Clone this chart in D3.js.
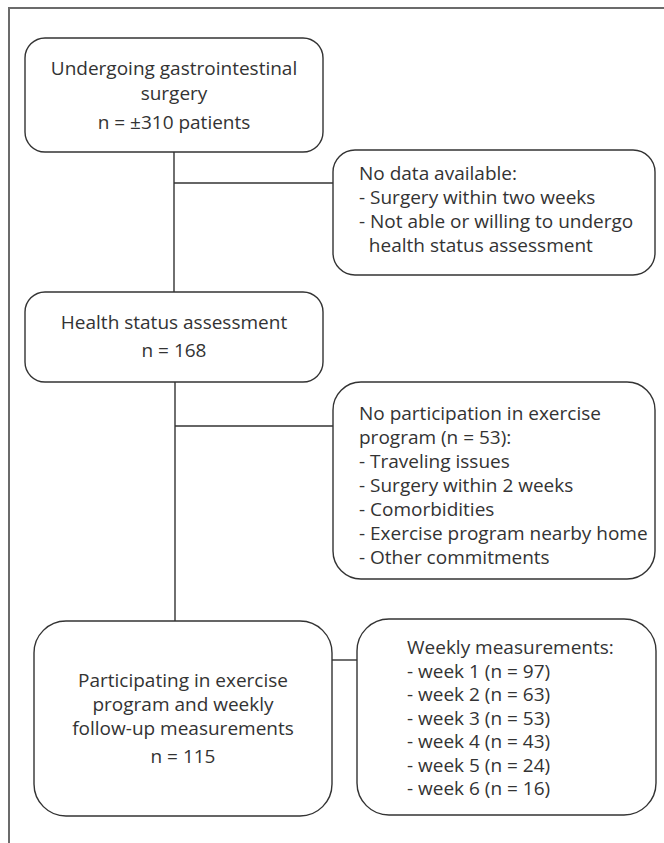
<!DOCTYPE html>
<html>
<head>
<meta charset="utf-8">
<script src="https://cdn.jsdelivr.net/npm/d3@7"></script>
<style>
  body { margin: 0; background: #fff; }
  text { font-family: "Open Sans", "Noto Sans", sans-serif; fill: #333; }
</style>
</head>
<body>
<div id="flow"></div>
<script>
// flow content
var mainSteps = [
    ['Undergoing gastrointestinal', 'surgery'],
    ['Health status assessment'],
    ['Participating in exercise', 'program and weekly', 'follow-up measurements']
];
var mainCounts = ['\u00b1310 patients', '168', '115'];

var noDataTitle = 'No data available:';
var noDataReasons = ['Surgery within two weeks', 'Not able or willing to undergo'];
var noDataContinued = 'health status assessment';

var noParticipationTitle = ['No participation in exercise', 'program'];
var noParticipationCount = 53;
var noParticipationReasons = ['Traveling issues', 'Surgery within 2 weeks', 'Comorbidities',
    'Exercise program nearby home', 'Other commitments'];

var weeklyTitle = 'Weekly measurements:';
var weeks = [1, 2, 3, 4, 5, 6];
var weeklyCounts = [97, 63, 53, 43, 24, 16];

var width = 664, height = 843;

var svg = d3.select('#flow')
    .append('svg')
    .attr('width', width)
    .attr('height', height);

// text lines for every box
var mainText = mainSteps.map(function (lines, i) {
    return lines.concat(['n = ' + mainCounts[i]]);
});
var noDataText = [noDataTitle].concat(noDataReasons.map(function (d) { return '- ' + d; }), ['  ' + noDataContinued]);
var noPartText = [noParticipationTitle[0], noParticipationTitle[1] + ' (n = ' + noParticipationCount + '):']
    .concat(noParticipationReasons.map(function (d) { return '- ' + d; }));
var weeklyText = [weeklyTitle].concat(weeks.map(function (w, i) {
    return '- week ' + w + ' (n = ' + weeklyCounts[i] + ')';
}));

// layout of the boxes (x, y, w, h, corner, text anchor, first line, line step)
var boxes = [
    { x: 25, y: 38, w: 298, h: 114, r: 20, lines: mainText[0], anchor: 'middle', first: 68, step: 25, nGap: 29 },
    { x: 333, y: 150, w: 322, h: 125, r: 22, lines: noDataText, anchor: 'start', tx: 359, first: 173, step: 24 },
    { x: 25, y: 292, w: 298, h: 90, r: 20, lines: mainText[1], anchor: 'middle', first: 322, step: 25, nGap: 28 },
    { x: 333, y: 382, w: 322, h: 197, r: 28, lines: noPartText, anchor: 'start', tx: 359, first: 413, step: 24 },
    { x: 34, y: 621, w: 298, h: 195, r: 32, lines: mainText[2], anchor: 'middle', first: 680, step: 24, nGap: 28 },
    { x: 357, y: 619, w: 299, h: 196, r: 32, lines: weeklyText, anchor: 'start', tx: 407, first: 647, step: 23.5 }
];

// outer frame (top and left only)
svg.append('path')
    .attr('d', 'M9,' + height + 'V8H' + width)
    .attr('fill', 'none')
    .attr('stroke', '#6b6b6b')
    .attr('stroke-width', 2);

// connectors
var link = d3.line();
var connectors = [
    [[174, 152], [174, 292]],
    [[174, 183], [333, 183]],
    [[175, 382], [175, 621]],
    [[175, 426], [333, 426]],
    [[332, 660], [357, 660]]
];
svg.selectAll('.link')
    .data(connectors)
    .enter().append('path')
    .attr('class', 'link')
    .attr('d', link)
    .attr('fill', 'none')
    .attr('stroke', '#333')
    .attr('stroke-width', 1.4);

var g = svg.selectAll('.box')
    .data(boxes)
    .enter().append('g')
    .attr('class', 'box');

g.append('rect')
    .attr('x', function (d) { return d.x; })
    .attr('y', function (d) { return d.y; })
    .attr('width', function (d) { return d.w; })
    .attr('height', function (d) { return d.h; })
    .attr('rx', function (d) { return d.r; })
    .attr('fill', '#fff')
    .attr('stroke', '#333')
    .attr('stroke-width', 1.4);

g.each(function (b) {
    var cx = b.anchor === 'middle' ? b.x + b.w / 2 : b.tx;
    d3.select(this).selectAll('text')
        .data(b.lines)
        .enter().append('text')
        .attr('x', cx)
        .attr('y', function (d, i) {
            var y = b.first + i * b.step;
            // count line sits a little lower in the main boxes
            if (b.nGap && i === b.lines.length - 1 && i > 0) y = b.first + (i - 1) * b.step + b.nGap;
            return y + 7;
        })
        .attr('text-anchor', b.anchor)
        .attr('xml:space', 'preserve')
        .style('font-size', '19px')
        .text(function (d) { return d; });
});
</script>
</body>
</html>
